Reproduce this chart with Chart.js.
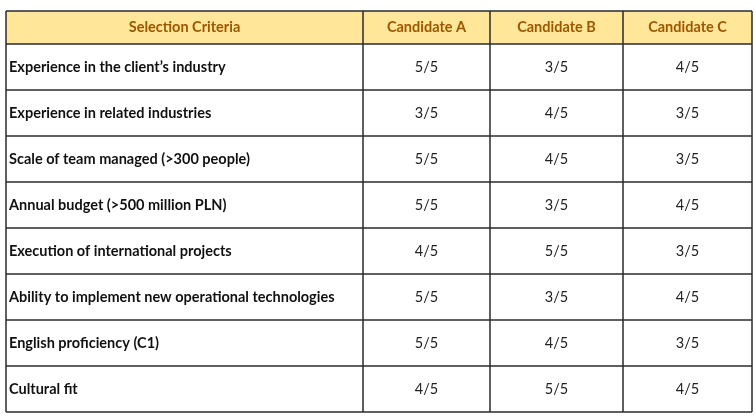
<!DOCTYPE html><html><head><meta charset="utf-8">
<script src="https://cdn.jsdelivr.net/npm/chart.js@4"></script>
<style>html,body{margin:0;background:#fff}#w{width:756px;height:417px}</style></head><body><div id="w"><canvas id="c"></canvas></div>
<script>
const headers = ["Selection Criteria","Candidate A","Candidate B","Candidate C"];
const criteria = ["Experience in the client’s industry","Experience in related industries","Scale of team managed (>300 people)","Annual budget (>500 million PLN)","Execution of international projects","Ability to implement new operational technologies","English proficiency (C1)","Cultural fit"];
const candA = [5,3,5,5,4,5,5,4];
const candB = [3,4,4,3,5,3,4,5];
const candC = [4,3,3,4,3,4,3,4];
const maxScore = 5;

const colEdges = [0, 357, 484, 617, 746];
const headerH = 33;
const tablePlugin = {
  id: 'table',
  afterDraw(chart) {
    const ctx = chart.ctx, y = chart.scales.y, a = chart.chartArea;
    const half = (y.getPixelForValue(1) - y.getPixelForValue(0)) / 2;
    const font = 'Lato, "Open Sans", sans-serif';
    ctx.save();
    const hTop = a.top - headerH, hBot = a.top;
    ctx.fillStyle = '#FFE699';
    ctx.fillRect(a.left, hTop, a.right - a.left, headerH);
    ctx.textBaseline = 'middle';
    ctx.textAlign = 'center';
    ctx.fillStyle = '#9C5700';
    ctx.font = 'bold 14.5px ' + font;
    for (let c = 0; c < 4; c++) {
      const x0 = a.left + colEdges[c], x1 = a.left + colEdges[c + 1];
      ctx.fillText(headers[c], (x0 + x1) / 2, (hTop + hBot) / 2);
    }
    criteria.forEach((r, i) => {
      const cy = y.getPixelForValue(i);
      for (let c = 0; c < 4; c++) {
        const x0 = a.left + colEdges[c], x1 = a.left + colEdges[c + 1];
        if (c === 0) {
          ctx.fillStyle = '#111';
          ctx.font = 'bold 14.5px ' + font;
          ctx.textAlign = 'left';
          ctx.fillText(r, x0 + 3, cy);
        } else {
          const v = [candA, candB, candC][c - 1][i];
          ctx.fillStyle = '#222';
          ctx.font = '14.5px ' + font;
          ctx.textAlign = 'center';
          ctx.fillText(v + '/' + maxScore, (x0 + x1) / 2, cy);
        }
      }
    });
    ctx.strokeStyle = '#2b2b2b';
    ctx.lineWidth = 1.5;
    ctx.beginPath();
    ctx.moveTo(a.left, hTop); ctx.lineTo(a.right, hTop);
    for (let i = 0; i < criteria.length; i++) {
      const yy = y.getPixelForValue(i) - half;
      ctx.moveTo(a.left, yy); ctx.lineTo(a.right, yy);
    }
    ctx.moveTo(a.left, a.bottom); ctx.lineTo(a.right, a.bottom);
    colEdges.forEach(e => { ctx.moveTo(a.left + e, hTop); ctx.lineTo(a.left + e, a.bottom); });
    ctx.stroke();
    ctx.restore();
  }
};
new Chart(document.getElementById('c'), {
  type: 'bar',
  data: { labels: criteria, datasets: [{ data: criteria.map(() => null) }] },
  options: {
    indexAxis: 'y', responsive: true, maintainAspectRatio: false, animation: false,
    layout: { padding: { left: 6, right: 4, top: 44, bottom: 5 } },
    plugins: { legend: { display: false }, tooltip: { enabled: false } },
    scales: {
      y: { type: 'category', display: false, offset: true },
      x: { display: false, min: 0, max: 1 }
    }
  },
  plugins: [tablePlugin]
});
</script></body></html>
